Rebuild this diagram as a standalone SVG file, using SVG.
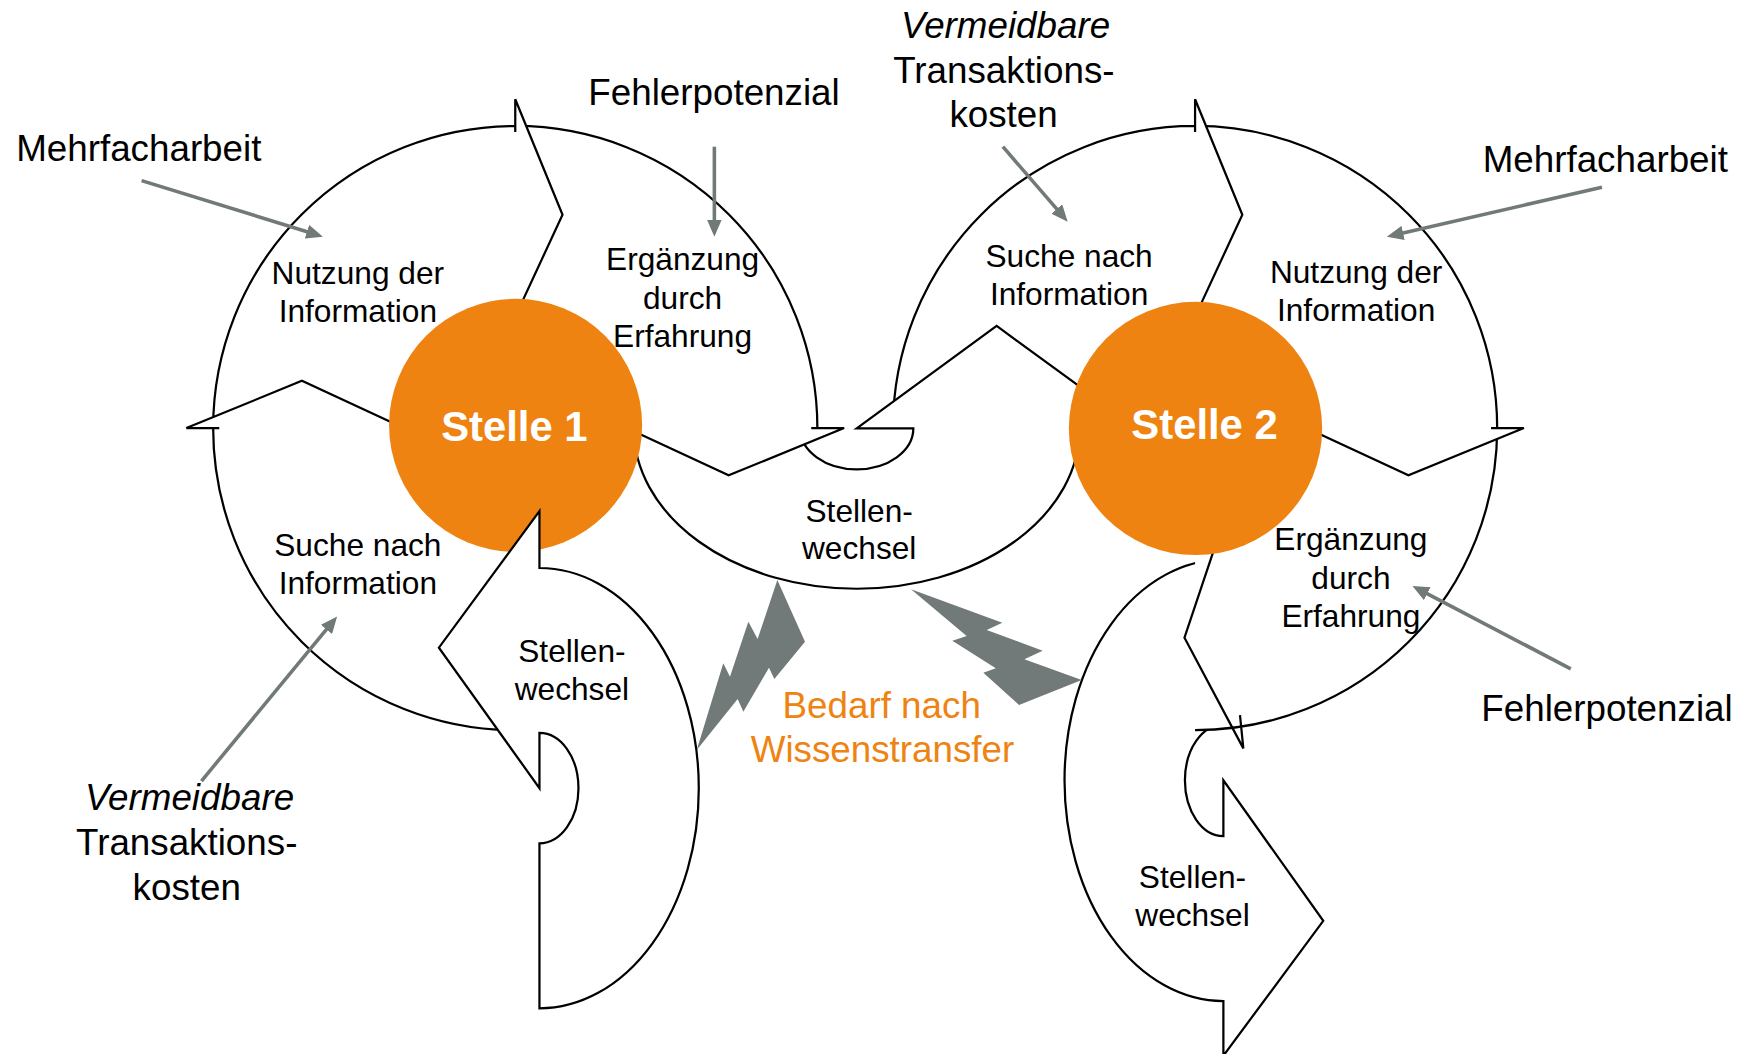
<svg xmlns="http://www.w3.org/2000/svg" width="1748" height="1054" viewBox="0 0 1748 1054">
<defs>
<style>
.fill{fill:#fff;stroke:none}
.ln{fill:none;stroke:#000;stroke-width:2}
.shp{fill:#fff;stroke:#000;stroke-width:2}
.orange{fill:#EE8312}
.t{font-family:"Liberation Sans",Arial,sans-serif;font-size:28.4px;text-anchor:middle;fill:#000}
.big{font-size:33px}
.it{font-style:italic}
.st{font-family:"Liberation Sans",Arial,sans-serif;font-weight:bold;font-size:37.5px;text-anchor:middle;fill:#fff}
.or{fill:#EE8312}
.ann{stroke:#717a78;stroke-width:3.2;fill:none;marker-end:url(#ah)}
.bolt{fill:#717a78}
</style>
<marker id="ah" markerUnits="userSpaceOnUse" viewBox="0 0 15 13" markerWidth="15" markerHeight="13" refX="7" refY="6.5" orient="auto"><path d="M0,0 L15,6.5 L0,13 z" fill="#717a78"/></marker>
</defs>
<rect width="1748" height="1054" fill="#fff"/>
<g transform="scale(1.1148)">

<g id="stellenwechsel-3">
<path class="shp" d="M 1097.4,502 A 142.5 198 0 0 0 1097.4,898 L 1097.4,947 L 1187,826 L 1097.4,700 L 1097.4,750 A 34.5 50 0 0 1 1097.4,650 Z"/>
<text class="t" x="1069.7" y="796.7">Stellen-</text>
<text class="t" x="1069.7" y="831">wechsel</text>
</g>

<g id="stelle2-ergaenzung">
<path class="fill" d="M 1343,384 A 271 271 0 0 1 1072,655 L 1072,501 A 117 117 0 0 0 1189,384 Z"/>
<path class="fill" d="M 1115.3,671.3 L 1062.5,572 L 1094,478 Z"/>
<path class="ln" d="M 1343,384 A 271 271 0 0 1 1072,655 M 1112.3,641.4 L 1115.3,671.3 L 1062.5,572 L 1094,478"/>
<text class="t" x="1211.8" y="493.6">Ergänzung</text>
<text class="t" x="1211.8" y="527.9">durch</text>
<text class="t" x="1211.8" y="562.2">Erfahrung</text>
</g>

<g id="stelle2-nutzung">
<path class="fill" d="M 1072,113 A 271 271 0 0 1 1343,384 L 1367,384 L 1263.4,426.4 L 1172,384 L 1189,384 A 117 117 0 0 0 1072,267 Z"/>
<path class="ln" d="M 1072,113 A 271 271 0 0 1 1343,384 M 1337.5,384 L 1367,384 L 1263.4,426.4 L 1172,384"/>
<text class="t" x="1216.5" y="253.6">Nutzung der</text>
<text class="t" x="1216.5" y="287.9">Information</text>
</g>

<g id="stelle2-suche">
<path class="fill" d="M 801,384 A 271 271 0 0 1 1072,113 L 1072,89 L 1114.4,192.6 L 1072,284 L 1072,267 A 117 117 0 0 0 955,384 Z"/>
<path class="ln" d="M 801,384 A 271 271 0 0 1 1072,113 M 1072,118.5 L 1072,89 L 1114.4,192.6 L 1072,284"/>
<text class="t" x="959" y="239.5">Suche nach</text>
<text class="t" x="959" y="273.8">Information</text>
</g>

<g id="stellenwechsel-1">
<path class="shp" d="M 568.5,384.2 A 200 144 0 0 0 968.5,384.2 L 1020,384.2 L 894,292.4 L 768.5,384.2 L 819.3,384.2 A 50.8 36.8 0 0 1 717.7,384.2"/>
<text class="t" x="770.7" y="468">Stellen-</text>
<text class="t" x="770.7" y="501.6">wechsel</text>
</g>

<g id="stelle1-ergaenzung">
<path class="fill" d="M 462.2,113 A 271 271 0 0 1 733.2,384 L 757.2,384 L 653.6,426.4 L 562.2,384 L 579.2,384 A 117 117 0 0 0 462.2,267 Z"/>
<path class="ln" d="M 462.2,113 A 271 271 0 0 1 733.2,384 M 727.7,384 L 757.2,384 L 653.6,426.4 L 562.2,384"/>
<text class="t" x="612.3" y="242.5">Ergänzung</text>
<text class="t" x="612.3" y="276.8">durch</text>
<text class="t" x="612.3" y="311">Erfahrung</text>
</g>

<g id="stelle1-nutzung">
<path class="fill" d="M 191.2,384 A 271 271 0 0 1 462.2,113 L 462.2,89 L 504.6,192.6 L 462.2,284 L 462.2,267 A 117 117 0 0 0 345.2,384 Z"/>
<path class="ln" d="M 191.2,384 A 271 271 0 0 1 462.2,113 M 462.2,118.5 L 462.2,89 L 504.6,192.6 L 462.2,284"/>
<text class="t" x="321" y="254.5">Nutzung der</text>
<text class="t" x="321" y="288.8">Information</text>
</g>

<g id="stelle1-suche">
<path class="fill" d="M 462.2,655 A 271 271 0 0 1 191.2,384 L 167.2,384 L 270.8,341.6 L 362.2,384 L 345.2,384 A 117 117 0 0 0 462.2,501 Z"/>
<path class="ln" d="M 462.2,655 A 271 271 0 0 1 191.2,384 M 196.7,384 L 167.2,384 L 270.8,341.6 L 362.2,384"/>
<text class="t" x="321" y="498.3">Suche nach</text>
<text class="t" x="321" y="532.6">Information</text>
</g>

<g id="stelle1">
<circle class="orange" cx="462.5" cy="381.5" r="113.5"/>
<text class="st" x="461.4" y="396">Stelle 1</text>
</g>

<g id="stelle2">
<circle class="orange" cx="1072.4" cy="384.3" r="113.6"/>
<text class="st" x="1080.5" y="394.1">Stelle 2</text>
</g>

<g id="stellenwechsel-2">
<path class="shp" d="M 483.9,904.5 A 143 197.5 0 0 0 483.9,509.5 L 483.9,458.5 L 393.7,581 L 483.9,707 L 483.9,657.5 A 35 49.5 0 0 1 483.9,756.5 Z"/>
<text class="t" x="513" y="593.5">Stellen-</text>
<text class="t" x="513" y="628.3">wechsel</text>
</g>

<g id="bedarf">
<polygon class="bolt" points="625,672.8 648.8,595 654.8,607 671.3,557.7 679.6,573.2 697.3,520.3 722.1,575.6 694.6,609.1 689.8,598.9 666.8,638.4 661.7,627"/>
<polygon class="bolt" points="817.2,528.6 899.1,558.6 885.1,565.1 935.3,583.7 918.9,591.4 970.3,610 914.1,632.4 882.1,603.4 893.2,599.5 854.3,574.7 867.1,570.5"/>
<text class="t big or" x="790.9" y="644.4">Bedarf nach</text>
<text class="t big or" x="791.6" y="683.2">Wissenstransfer</text>
</g>

<g id="connectors">
<line class="ann" x1="127" y1="162" x2="282" y2="209.9"/>
<line class="ann" x1="640.8" y1="131.6" x2="640.8" y2="204.3"/>
<line class="ann" x1="899.6" y1="131.6" x2="952.5" y2="192.8"/>
<line class="ann" x1="1437" y1="168" x2="1251.8" y2="210.5"/>
<line class="ann" x1="1409" y1="600" x2="1274.1" y2="529.3"/>
<line class="ann" x1="180.7" y1="700.6" x2="297.3" y2="559.2"/>
</g>

<g id="annotations">
<text class="t big" x="124.5" y="144.3">Mehrfacharbeit</text>
<text class="t big" x="640.5" y="94.5">Fehlerpotenzial</text>
<text class="t big it" x="902" y="34.5">Vermeidbare</text>
<text class="t big" x="900.5" y="74.5">Transaktions-</text>
<text class="t big" x="900.2" y="114.2">kosten</text>
<text class="t big" x="1440" y="154.5">Mehrfacharbeit</text>
<text class="t big" x="1441.5" y="647">Fehlerpotenzial</text>
<text class="t big it" x="170" y="726.5">Vermeidbare</text>
<text class="t big" x="167.5" y="767.3">Transaktions-</text>
<text class="t big" x="167.5" y="807">kosten</text>
</g>

</g>
</svg>
